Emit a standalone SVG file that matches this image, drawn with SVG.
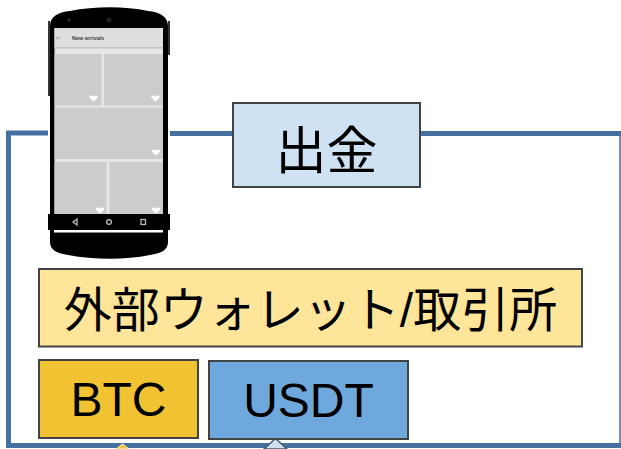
<svg xmlns="http://www.w3.org/2000/svg" width="621" height="449" viewBox="0 0 621 449">
<style>
.box{stroke:#434343;stroke-width:2}
.t{font-family:"Liberation Sans","Noto Sans CJK JP",sans-serif;fill:#000;text-anchor:middle}
.tile{fill:#cccccc}
.heart{fill:#fff}
.nav{fill:none;stroke:#bbb;stroke-width:1.3}
</style>
<defs>
<path id="h" d="M0 3.500-4-.3C-5.200-2.200-2-3.600 0-1.500 2-3.600 5.200-2.200 4-.3Z"/>
</defs>
<rect width="621" height="449" fill="#fff"/>
<g id="connectors">
<path d="M48 133H8.500V445.500H621" fill="none" stroke="#44719f" stroke-width="5"/>
<path d="M170 133.500H621" fill="none" stroke="#44719f" stroke-width="5"/>
<path d="M620 135V445" fill="none" stroke="#44719f" stroke-width="1.500"/>
<path d="M116 449 122.500 444 129 449Z" fill="#f1c232" stroke="#fff2cc" stroke-width="1"/>
<path d="M264 449 275.500 438.500 287 449Z" fill="#cfe2f3" stroke="#4a5a6a" stroke-width="1.500"/>
</g>
<g id="phone">
<path d="M50 26C50 17 58 12 70 11 95 6 125 6 148 11 160 12 168 17 168 26V242C168 251 160 253 150 255 125 260 95 260 68 255 58 253 50 251 50 242Z" fill="#000"/>
<rect x="48" y="21" width="2" height="75" fill="#333"/>
<rect x="168" y="21" width="2" height="34" fill="#333"/>
<circle cx="69" cy="20" r="1.500" fill="#333"/>
<circle cx="109" cy="20" r="2.500" fill="#222"/>
<rect x="54.500" y="28" width="108.500" height="202" fill="#e6e6e6"/>
<rect x="54.500" y="28" width="108.500" height="19" fill="#dedede"/>
<rect x="54.500" y="47" width="108.500" height="1.500" fill="#c4c4c4"/>
<text x="72" y="40" font-family="Liberation Sans,sans-serif" font-size="5.500" font-weight="bold" fill="#444">New arrivals</text>
<path d="M60 38H56.500M58 36.500 56.500 38 58 39.500" fill="none" stroke="#999" stroke-width=".7"/>
<rect class="tile" x="54.500" y="54" width="47" height="51.500"/>
<rect class="tile" x="104" y="54" width="59" height="51.500"/>
<rect class="tile" x="54.500" y="107.500" width="108.500" height="51.500"/>
<rect class="tile" x="54.500" y="162" width="52" height="52"/>
<rect class="tile" x="109.500" y="162" width="53.500" height="52"/>
<use href="#h" class="heart" x="93.500" y="98"/>
<use href="#h" class="heart" x="155.500" y="98"/>
<use href="#h" class="heart" x="156" y="152"/>
<use href="#h" class="heart" x="100" y="210"/>
<use href="#h" class="heart" x="156" y="210"/>
<rect x="48" y="214" width="122" height="16" fill="#000"/>
<rect x="54" y="230" width="109" height="2.500" fill="#fff"/>
<path class="nav" d="M77 219 73 222 77 225Z"/>
<circle class="nav" cx="109" cy="222" r="2.400"/>
<rect class="nav" x="141" y="219.500" width="4.500" height="5"/>
</g>
<g id="withdraw">
<rect class="box" x="233" y="103" width="187" height="84" fill="#cfe2f3"/>
<text class="t" x="326.500" y="169" font-size="51">出金</text>
</g>
<g id="wallet">
<rect class="box" x="39" y="269" width="543" height="77.500" fill="#ffe599"/>
<text class="t" x="310.500" y="327" font-size="48">外部ウォレット/取引所</text>
</g>
<g id="btc">
<rect class="box" x="39" y="360" width="159" height="78" fill="#f1c232"/>
<text class="t" x="118.500" y="416" font-size="48">BTC</text>
</g>
<g id="usdt">
<rect class="box" x="209" y="361" width="199" height="78" fill="#6fa8dc"/>
<text class="t" x="308.500" y="417" font-size="48">USDT</text>
</g>
</svg>
